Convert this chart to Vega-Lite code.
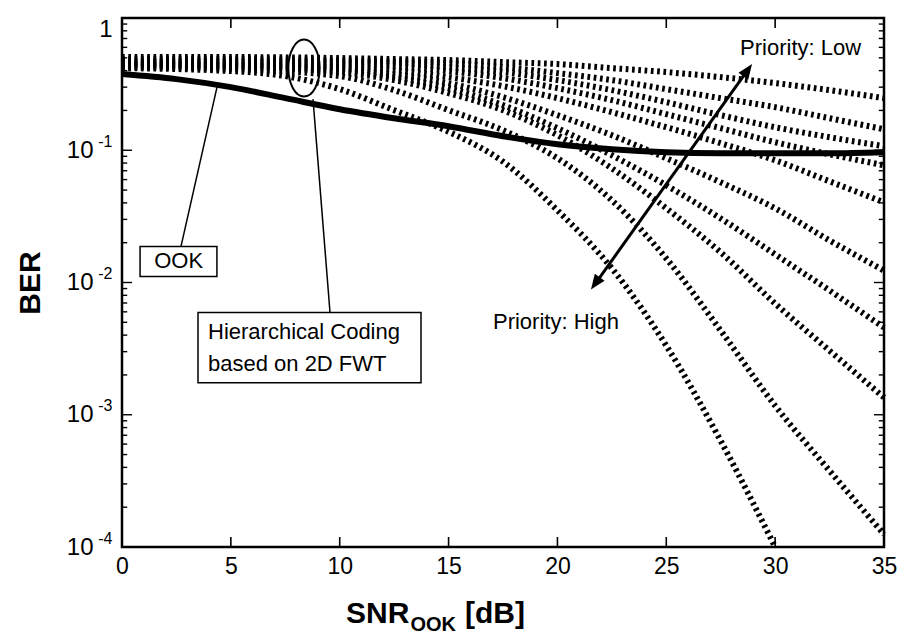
{
"$schema": "https://vega.github.io/schema/vega-lite/v6.json",
"width": 762, "height": 529,
"autosize": {"type": "none"},
"padding": {"left": 122, "top": 18, "right": 20, "bottom": 91},
"background": "white",
"config": {
  "view": {"stroke": "black", "strokeWidth": 2.5},
  "font": "Liberation Sans",
  "axis": {"domain": false, "grid": false, "labelFont": "Liberation Sans", "labelColor": "black", "labelFontSize": 23, "labelFlush": false, "labelOverlap": false, "titleColor": "black"}
},
"datasets": {
  "curves": [
    {"s":"L1","snr":0,"ber":0.5064},{"s":"L1","snr":5,"ber":0.5064},{"s":"L1","snr":10,"ber":0.4977},{"s":"L1","snr":12.5,"ber":0.4891},{"s":"L1","snr":15,"ber":0.4806},{"s":"L1","snr":17.5,"ber":0.4642},{"s":"L1","snr":20,"ber":0.4482},{"s":"L1","snr":22.5,"ber":0.4180},{"s":"L1","snr":25,"ber":0.3899},{"s":"L1","snr":27.5,"ber":0.3573},{"s":"L1","snr":30,"ber":0.3218},{"s":"L1","snr":32.5,"ber":0.2847},{"s":"L1","snr":35,"ber":0.2477},
    {"s":"L2","snr":0,"ber":0.4891},{"s":"L2","snr":5,"ber":0.4891},{"s":"L2","snr":10,"ber":0.4806},{"s":"L2","snr":12.5,"ber":0.4723},{"s":"L2","snr":15,"ber":0.4561},{"s":"L2","snr":17.5,"ber":0.4254},{"s":"L2","snr":20,"ber":0.3831},{"s":"L2","snr":22.5,"ber":0.3392},{"s":"L2","snr":25,"ber":0.2897},{"s":"L2","snr":27.5,"ber":0.2477},{"s":"L2","snr":30,"ber":0.2117},{"s":"L2","snr":32.5,"ber":0.1747},{"s":"L2","snr":35,"ber":0.1442},
    {"s":"L3","snr":0,"ber":0.4723},{"s":"L3","snr":5,"ber":0.4723},{"s":"L3","snr":10,"ber":0.4642},{"s":"L3","snr":12.5,"ber":0.4561},{"s":"L3","snr":15,"ber":0.4254},{"s":"L3","snr":17.5,"ber":0.3899},{"s":"L3","snr":20,"ber":0.3392},{"s":"L3","snr":22.5,"ber":0.2847},{"s":"L3","snr":25,"ber":0.2310},{"s":"L3","snr":27.5,"ber":0.1842},{"s":"L3","snr":30,"ber":0.1493},{"s":"L3","snr":32.5,"ber":0.1255},{"s":"L3","snr":35,"ber":0.1072},
    {"s":"L4","snr":0,"ber":0.4642},{"s":"L4","snr":5,"ber":0.4642},{"s":"L4","snr":10,"ber":0.4482},{"s":"L4","snr":12.5,"ber":0.4329},{"s":"L4","snr":15,"ber":0.3967},{"s":"L4","snr":17.5,"ber":0.3511},{"s":"L4","snr":20,"ber":0.2948},{"s":"L4","snr":22.5,"ber":0.2392},{"s":"L4","snr":25,"ber":0.1874},{"s":"L4","snr":27.5,"ber":0.1468},{"s":"L4","snr":30,"ber":0.1150},{"s":"L4","snr":32.5,"ber":0.0932},{"s":"L4","snr":35,"ber":0.0770},
    {"s":"L5","snr":0,"ber":0.4561},{"s":"L5","snr":5,"ber":0.4482},{"s":"L5","snr":10,"ber":0.4329},{"s":"L5","snr":12.5,"ber":0.4037},{"s":"L5","snr":15,"ber":0.3573},{"s":"L5","snr":17.5,"ber":0.3053},{"s":"L5","snr":20,"ber":0.2477},{"s":"L5","snr":22.5,"ber":0.1941},{"s":"L5","snr":25,"ber":0.1493},{"s":"L5","snr":27.5,"ber":0.1130},{"s":"L5","snr":30,"ber":0.0840},{"s":"L5","snr":32.5,"ber":0.0582},{"s":"L5","snr":35,"ber":0.0404},
    {"s":"L6","snr":0,"ber":0.4482},{"s":"L6","snr":5,"ber":0.4405},{"s":"L6","snr":10,"ber":0.4180},{"s":"L6","snr":12.5,"ber":0.3765},{"s":"L6","snr":15,"ber":0.3218},{"s":"L6","snr":17.5,"ber":0.2521},{"s":"L6","snr":20,"ber":0.1842},{"s":"L6","snr":22.5,"ber":0.1299},{"s":"L6","snr":25,"ber":0.0870},{"s":"L6","snr":27.5,"ber":0.0572},{"s":"L6","snr":30,"ber":0.0364},{"s":"L6","snr":32.5,"ber":0.0208},{"s":"L6","snr":35,"ber":0.0123},
    {"s":"L7","snr":0,"ber":0.4405},{"s":"L7","snr":5,"ber":0.4329},{"s":"L7","snr":10,"ber":0.4037},{"s":"L7","snr":12.5,"ber":0.3573},{"s":"L7","snr":15,"ber":0.2948},{"s":"L7","snr":17.5,"ber":0.2193},{"s":"L7","snr":20,"ber":0.1468},{"s":"L7","snr":22.5,"ber":0.0917},{"s":"L7","snr":25,"ber":0.0543},{"s":"L7","snr":27.5,"ber":0.0305},{"s":"L7","snr":30,"ber":0.0163},{"s":"L7","snr":32.5,"ber":0.0087},{"s":"L7","snr":35,"ber":0.00456},
    {"s":"L8","snr":0,"ber":0.4329},{"s":"L8","snr":5,"ber":0.4254},{"s":"L8","snr":10,"ber":0.3899},{"s":"L8","snr":12.5,"ber":0.3392},{"s":"L8","snr":15,"ber":0.2702},{"s":"L8","snr":17.5,"ber":0.2009},{"s":"L8","snr":20,"ber":0.1299},{"s":"L8","snr":22.5,"ber":0.0730},{"s":"L8","snr":25,"ber":0.0364},{"s":"L8","snr":27.5,"ber":0.0169},{"s":"L8","snr":30,"ber":0.00693},{"s":"L8","snr":32.5,"ber":0.00305},{"s":"L8","snr":35,"ber":0.00135},
    {"s":"L9","snr":0,"ber":0.4254},{"s":"L9","snr":5,"ber":0.4108},{"s":"L9","snr":10,"ber":0.3637},{"s":"L9","snr":12.5,"ber":0.2847},{"s":"L9","snr":15,"ber":0.2009},{"s":"L9","snr":17.5,"ber":0.1417},{"s":"L9","snr":20,"ber":0.0870},{"s":"L9","snr":22.5,"ber":0.0418},{"s":"L9","snr":25,"ber":0.0152},{"s":"L9","snr":27.5,"ber":0.00433},{"s":"L9","snr":30,"ber":0.00117},{"s":"L9","snr":32.5,"ber":0.000377},{"s":"L9","snr":35,"ber":0.000125},
    {"s":"L10","snr":0,"ber":0.4180},{"s":"L10","snr":5,"ber":0.3967},{"s":"L10","snr":7.5,"ber":0.3637},{"s":"L10","snr":10,"ber":0.2900},{"s":"L10","snr":12.5,"ber":0.2009},{"s":"L10","snr":15,"ber":0.1380},{"s":"L10","snr":17.5,"ber":0.0820},{"s":"L10","snr":20,"ber":0.0351},{"s":"L10","snr":22.5,"ber":0.0128},{"s":"L10","snr":25,"ber":0.00333},{"s":"L10","snr":27.5,"ber":0.000635},{"s":"L10","snr":30,"ber":0.0001}
  ],
  "ook": [
    {"snr":0,"ber":0.3765},{"snr":2.5,"ber":0.3450},{"snr":5,"ber":0.3000},{"snr":7.5,"ber":0.2477},{"snr":10,"ber":0.2044},{"snr":12.5,"ber":0.1747},{"snr":15,"ber":0.1520},{"snr":17.5,"ber":0.1277},{"snr":20,"ber":0.1110},{"snr":22.5,"ber":0.1018},{"snr":25,"ber":0.0966},{"snr":27.5,"ber":0.0949},{"snr":30,"ber":0.0949},{"snr":32.5,"ber":0.0949},{"snr":35,"ber":0.0966}
  ],
  "xticks": [
    {"t":5,"lo":0.0001,"hi":0.000119,"top":1,"bot":0.84},{"t":10,"lo":0.0001,"hi":0.000119,"top":1,"bot":0.84},{"t":15,"lo":0.0001,"hi":0.000119,"top":1,"bot":0.84},
    {"t":20,"lo":0.0001,"hi":0.000119,"top":1,"bot":0.84},{"t":25,"lo":0.0001,"hi":0.000119,"top":1,"bot":0.84},{"t":30,"lo":0.0001,"hi":0.000119,"top":1,"bot":0.84}
  ],
  "yticks": [
    {"t":0.001,"l0":0,"l1":0.46,"r0":35,"r1":34.54},{"t":0.01,"l0":0,"l1":0.46,"r0":35,"r1":34.54},{"t":0.1,"l0":0,"l1":0.46,"r0":35,"r1":34.54},
    {"t":0.0002,"l0":0,"l1":0.24,"r0":35,"r1":34.76},{"t":0.0003,"l0":0,"l1":0.24,"r0":35,"r1":34.76},{"t":0.0004,"l0":0,"l1":0.24,"r0":35,"r1":34.76},{"t":0.0005,"l0":0,"l1":0.24,"r0":35,"r1":34.76},{"t":0.0006,"l0":0,"l1":0.24,"r0":35,"r1":34.76},{"t":0.0007,"l0":0,"l1":0.24,"r0":35,"r1":34.76},{"t":0.0008,"l0":0,"l1":0.24,"r0":35,"r1":34.76},{"t":0.0009,"l0":0,"l1":0.24,"r0":35,"r1":34.76},
    {"t":0.002,"l0":0,"l1":0.24,"r0":35,"r1":34.76},{"t":0.003,"l0":0,"l1":0.24,"r0":35,"r1":34.76},{"t":0.004,"l0":0,"l1":0.24,"r0":35,"r1":34.76},{"t":0.005,"l0":0,"l1":0.24,"r0":35,"r1":34.76},{"t":0.006,"l0":0,"l1":0.24,"r0":35,"r1":34.76},{"t":0.007,"l0":0,"l1":0.24,"r0":35,"r1":34.76},{"t":0.008,"l0":0,"l1":0.24,"r0":35,"r1":34.76},{"t":0.009,"l0":0,"l1":0.24,"r0":35,"r1":34.76},
    {"t":0.02,"l0":0,"l1":0.24,"r0":35,"r1":34.76},{"t":0.03,"l0":0,"l1":0.24,"r0":35,"r1":34.76},{"t":0.04,"l0":0,"l1":0.24,"r0":35,"r1":34.76},{"t":0.05,"l0":0,"l1":0.24,"r0":35,"r1":34.76},{"t":0.06,"l0":0,"l1":0.24,"r0":35,"r1":34.76},{"t":0.07,"l0":0,"l1":0.24,"r0":35,"r1":34.76},{"t":0.08,"l0":0,"l1":0.24,"r0":35,"r1":34.76},{"t":0.09,"l0":0,"l1":0.24,"r0":35,"r1":34.76},
    {"t":0.2,"l0":0,"l1":0.24,"r0":35,"r1":34.76},{"t":0.3,"l0":0,"l1":0.24,"r0":35,"r1":34.76},{"t":0.4,"l0":0,"l1":0.24,"r0":35,"r1":34.76},{"t":0.5,"l0":0,"l1":0.24,"r0":35,"r1":34.76},{"t":0.6,"l0":0,"l1":0.24,"r0":35,"r1":34.76},{"t":0.7,"l0":0,"l1":0.24,"r0":35,"r1":34.76},{"t":0.8,"l0":0,"l1":0.24,"r0":35,"r1":34.76},{"t":0.9,"l0":0,"l1":0.24,"r0":35,"r1":34.76}
  ]
},
"resolve": {"axis": {"x": "independent", "y": "independent"}},
"layer": [
  {
    "data": {"name": "curves"},
    "mark": {"type": "line", "color": "black", "strokeWidth": 6, "strokeDash": [2.7, 3.6], "strokeCap": "butt", "interpolate": "monotone"},
    "encoding": {
      "x": {"field": "snr", "type": "quantitative", "scale": {"domain": [0, 35], "nice": false, "zero": false},
            "axis": {"orient": "bottom", "values": [0,5,10,15,20,25,30,35], "ticks": false, "labelPadding": 8, "title": null}},
      "y": {"field": "ber", "type": "quantitative", "scale": {"type": "log", "domain": [0.0001, 1], "nice": false},
            "axis": {"orient": "left", "values": [0.0001,0.001,0.01,0.1,1], "ticks": false, "labelPadding": 29, "labelFontSize": 24,
                     "labelExpr": "datum.value >= 0.5 ? '' : '10'",
                     "title": "BER", "titleFont": "Liberation Sans", "titleFontSize": 30, "titleFontWeight": "bold",
                     "titleX": -92, "titleY": 264.5, "titleAngle": -90, "titleBaseline": "middle", "titleAlign": "center"}},
      "detail": {"field": "s"}
    }
  },
  {
    "data": {"name": "ook"},
    "mark": {"type": "line", "color": "black", "strokeWidth": 6, "interpolate": "monotone"},
    "encoding": {
      "x": {"field": "snr", "type": "quantitative", "scale": {"domain": [0, 35], "nice": false, "zero": false}, "axis": null},
      "y": {"field": "ber", "type": "quantitative", "scale": {"type": "log", "domain": [0.0001, 1], "nice": false}, "axis": null}
    }
  },
  {
    "data": {"name": "xticks"},
    "mark": {"type": "rule", "color": "black", "strokeWidth": 1.6},
    "encoding": {
      "x": {"field": "t", "type": "quantitative", "scale": {"domain": [0, 35], "nice": false, "zero": false}, "axis": null},
      "y": {"field": "lo", "type": "quantitative", "scale": {"type": "log", "domain": [0.0001, 1], "nice": false}, "axis": null},
      "y2": {"field": "hi"}
    }
  },
  {
    "data": {"name": "xticks"},
    "mark": {"type": "rule", "color": "black", "strokeWidth": 1.6},
    "encoding": {
      "x": {"field": "t", "type": "quantitative", "scale": {"domain": [0, 35], "nice": false, "zero": false}, "axis": null},
      "y": {"field": "top", "type": "quantitative", "scale": {"type": "log", "domain": [0.0001, 1], "nice": false}, "axis": null},
      "y2": {"field": "bot"}
    }
  },
  {
    "data": {"name": "yticks"},
    "mark": {"type": "rule", "color": "black", "strokeWidth": 1.4},
    "encoding": {
      "y": {"field": "t", "type": "quantitative", "scale": {"type": "log", "domain": [0.0001, 1], "nice": false}, "axis": null},
      "x": {"field": "l0", "type": "quantitative", "scale": {"domain": [0, 35], "nice": false, "zero": false}, "axis": null},
      "x2": {"field": "l1"}
    }
  },
  {
    "data": {"name": "yticks"},
    "mark": {"type": "rule", "color": "black", "strokeWidth": 1.4},
    "encoding": {
      "y": {"field": "t", "type": "quantitative", "scale": {"type": "log", "domain": [0.0001, 1], "nice": false}, "axis": null},
      "x": {"field": "r0", "type": "quantitative", "scale": {"domain": [0, 35], "nice": false, "zero": false}, "axis": null},
      "x2": {"field": "r1"}
    }
  },
  {
    "data": {"values": [{}]},
    "mark": {"type": "rule", "color": "black", "strokeWidth": 3},
    "encoding": {
      "x": {"datum": 21.76, "type": "quantitative", "scale": {"domain": [0, 35], "nice": false, "zero": false}, "axis": null},
      "y": {"datum": 0.00991, "type": "quantitative", "scale": {"type": "log", "domain": [0.0001, 1], "nice": false}, "axis": null},
      "x2": {"datum": 28.72},
      "y2": {"datum": 0.4}
    }
  },
  {
    "data": {"values": [{}]},
    "mark": {"type": "rule", "color": "black", "strokeWidth": 1.5},
    "encoding": {
      "x": {"datum": 2.71, "type": "quantitative", "axis": null},
      "y": {"datum": 0.01874, "type": "quantitative", "axis": null},
      "x2": {"datum": 4.364},
      "y2": {"datum": 0.3}
    }
  },
  {
    "data": {"values": [{}]},
    "mark": {"type": "rule", "color": "black", "strokeWidth": 1.5},
    "encoding": {
      "x": {"datum": 9.554, "type": "quantitative", "axis": null},
      "y": {"datum": 0.005925, "type": "quantitative", "axis": null},
      "x2": {"datum": 8.773},
      "y2": {"datum": 0.2433}
    }
  },
  {
    "data": {"values": [{}]},
    "mark": {"type": "point", "shape": "M0,0 L0.4,1 L-0.4,1 Z", "size": 900, "filled": true, "color": "black", "opacity": 1, "angle": 35.6},
    "encoding": {
      "x": {"datum": 28.94, "type": "quantitative", "axis": null},
      "y": {"datum": 0.448, "type": "quantitative",
            "axis": {"orient": "left", "values": [0.0001,0.001,0.01,0.1,1],
                     "ticks": false, "labelPadding": 10,
                     "labelExpr": "datum.value >= 0.5 ? '1' : datum.value >= 0.05 ? '-1' : datum.value >= 0.005 ? '-2' : datum.value >= 0.0005 ? '-3' : '-4'",
                     "labelFontSize": {"condition": {"test": "datum.value >= 0.5", "value": 24}, "value": 16},
                     "labelOffset": {"condition": {"test": "datum.value >= 0.5", "value": 11}, "value": -9},
                     "title": null}}
    }
  },
  {
    "data": {"values": [{}]},
    "mark": {"type": "point", "shape": "M0,0 L0.4,1 L-0.4,1 Z", "size": 900, "filled": true, "color": "black", "opacity": 1, "angle": 215.6},
    "encoding": {
      "x": {"datum": 21.54, "type": "quantitative", "axis": null},
      "y": {"datum": 0.00885, "type": "quantitative", "axis": null}
    }
  },
  {
    "data": {"values": [{}]},
    "mark": {"type": "point", "shape": "M0,-1 A0.55,1 0 1,1 0,1 A0.55,1 0 1,1 0,-1 Z", "size": 3249, "filled": false, "stroke": "black", "strokeWidth": 2, "opacity": 1},
    "encoding": {
      "x": {"datum": 8.36, "type": "quantitative", "axis": null},
      "y": {"datum": 0.418, "type": "quantitative", "axis": null}
    }
  },
  {
    "data": {"values": [{}]},
    "mark": {"type": "rect", "fill": "white", "stroke": "black", "strokeWidth": 1.5},
    "encoding": {
      "x": {"datum": 0.83, "type": "quantitative", "axis": null},
      "x2": {"datum": 4.36},
      "y": {"datum": 0.01874, "type": "quantitative", "axis": null},
      "y2": {"datum": 0.0111}
    }
  },
  {
    "data": {"values": [{}]},
    "mark": {"type": "rect", "fill": "white", "stroke": "black", "strokeWidth": 1.5},
    "encoding": {
      "x": {"datum": 3.491, "type": "quantitative", "axis": null},
      "x2": {"datum": 13.734},
      "y": {"datum": 0.005925, "type": "quantitative", "axis": null},
      "y2": {"datum": 0.001748}
    }
  },
  {
    "data": {"values": [{}]},
    "mark": {"type": "text", "text": "OOK", "font": "Liberation Sans", "fontSize": 22, "align": "center", "baseline": "middle", "color": "black"},
    "encoding": {"x": {"datum": 2.6, "type": "quantitative", "axis": null}, "y": {"datum": 0.01442, "type": "quantitative", "axis": null}}
  },
  {
    "data": {"values": [{}]},
    "mark": {"type": "text", "text": "Hierarchical Coding", "font": "Liberation Sans", "fontSize": 22, "align": "left", "baseline": "middle", "color": "black"},
    "encoding": {"x": {"datum": 3.95, "type": "quantitative", "axis": null}, "y": {"datum": 0.004256, "type": "quantitative", "axis": null}}
  },
  {
    "data": {"values": [{}]},
    "mark": {"type": "text", "text": "based on 2D FWT", "font": "Liberation Sans", "fontSize": 22, "align": "left", "baseline": "middle", "color": "black"},
    "encoding": {"x": {"datum": 3.95, "type": "quantitative", "axis": null}, "y": {"datum": 0.002434, "type": "quantitative", "axis": null}}
  },
  {
    "data": {"values": [{}]},
    "mark": {"type": "text", "text": "Priority: Low", "font": "Liberation Sans", "fontSize": 22, "align": "left", "baseline": "middle", "color": "black"},
    "encoding": {"x": {"datum": 28.39, "type": "quantitative", "axis": null}, "y": {"datum": 0.5925, "type": "quantitative", "axis": null}}
  },
  {
    "data": {"values": [{}]},
    "mark": {"type": "text", "text": "Priority: High", "font": "Liberation Sans", "fontSize": 22, "align": "left", "baseline": "middle", "color": "black"},
    "encoding": {"x": {"datum": 17.04, "type": "quantitative", "axis": null}, "y": {"datum": 0.005062, "type": "quantitative", "axis": null}}
  },
  {
    "data": {"values": [{}]},
    "mark": {"type": "text", "text": "SNR", "font": "Liberation Sans", "fontSize": 30, "fontWeight": "bold", "align": "right", "baseline": "alphabetic", "dy": 76, "color": "black"},
    "encoding": {"x": {"datum": 13.2, "type": "quantitative", "axis": null}, "y": {"datum": 0.0001, "type": "quantitative", "axis": null}}
  },
  {
    "data": {"values": [{}]},
    "mark": {"type": "text", "text": "OOK", "font": "Liberation Sans", "fontSize": 20, "fontWeight": "bold", "align": "left", "baseline": "alphabetic", "dy": 84, "dx": 1, "color": "black"},
    "encoding": {"x": {"datum": 13.2, "type": "quantitative", "axis": null}, "y": {"datum": 0.0001, "type": "quantitative", "axis": null}}
  },
  {
    "data": {"values": [{}]},
    "mark": {"type": "text", "text": "[dB]", "font": "Liberation Sans", "fontSize": 30, "fontWeight": "bold", "align": "left", "baseline": "alphabetic", "dy": 76, "color": "black"},
    "encoding": {"x": {"datum": 15.75, "type": "quantitative", "axis": null}, "y": {"datum": 0.0001, "type": "quantitative", "axis": null}}
  }
]
}
